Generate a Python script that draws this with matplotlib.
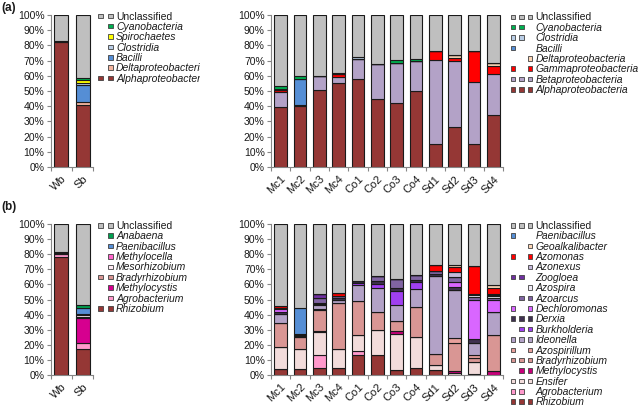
import matplotlib
matplotlib.use('Agg')
import matplotlib.pyplot as plt
from matplotlib.patches import Rectangle
from matplotlib.legend_handler import HandlerBase
from matplotlib.transforms import Bbox, TransformedBbox
import numpy as np

plt.rcParams['font.family'] = ['Liberation Sans', 'DejaVu Sans']

# ---------------- Panel (a), left: class level, Wb / Sb ----------------
a_left_samples = ['Wb', 'Sb']
a_left_taxa = ['Alphaproteobacteria', 'Deltaproteobacteria', 'Bacilli', 'Clostridia',
               'Spirochaetes', 'Cyanobacteria', 'Unclassified']
a_left_alpha = [82.0, 41.0]
a_left_delta = [0.7, 1.5]
a_left_bacilli = [0.0, 11.5]
a_left_clostridia = [0.0, 1.0]
a_left_spiro = [0.0, 2.5]
a_left_cyano = [0.0, 1.3]
a_left_unclass = [17.3, 41.2]
a_left_colors = ['#953735', '#F4B6A0', '#558ED5', '#B9CDE5', '#FFFF00', '#00B050', '#BFBFBF']
a_left_slots = [[1, 1], [0, 1], [0, 1], [0, 1], [0, 1], [0, 1], [1, 1]]

# ---------------- Panel (a), right: class level, 12 samples ----------------
samples12 = ['Mc1', 'Mc2', 'Mc3', 'Mc4', 'Co1', 'Co2', 'Co3', 'Co4', 'Sd1', 'Sd2', 'Sd3', 'Sd4']
a_right_taxa = ['Alphaproteobacteria', 'Betaproteobacteria', 'Gammaproteobacteria',
                'Deltaproteobacteria', 'Bacilli', 'Clostridia', 'Cyanobacteria', 'Unclassified']
a_alpha = [39.5, 40.0, 50.7, 55.0, 58.0, 45.0, 42.0, 50.0, 15.0, 26.5, 15.0, 34.0]
a_beta = [10.0, 1.0, 9.3, 4.0, 13.0, 22.8, 26.6, 20.0, 55.6, 43.5, 41.0, 27.0]
a_gamma = [1.0, 0.0, 0.0, 2.0, 0.0, 0.0, 0.0, 0.0, 5.5, 2.0, 20.0, 5.2]
a_delta = [0.0, 0.0, 0.0, 0.0, 0.0, 0.0, 0.0, 0.0, 0.0, 1.5, 0.0, 2.5]
a_bacilli = [0.0, 17.0, 0.0, 0.0, 0.0, 0.0, 0.0, 0.0, 0.0, 0.0, 0.0, 0.0]
a_clostridia = [0.5, 0.0, 0.0, 1.0, 1.5, 0.0, 0.0, 0.0, 0.0, 0.0, 0.0, 0.0]
a_cyano = [2.5, 2.0, 0.0, 0.0, 0.0, 0.0, 1.5, 1.0, 0.0, 0.0, 0.0, 0.0]
a_unclass = [46.5, 40.0, 40.0, 38.0, 27.5, 32.2, 29.9, 29.0, 23.9, 26.5, 24.0, 31.3]
a_right_colors = ['#953735', '#B3A2C7', '#FF0000', '#FCD5B5', '#558ED5', '#B9CDE5', '#00B050', '#BFBFBF']
a_right_slots = [[1, 1, 1], [1, 1, 1], [1, 0, 1], [0, 0, 1], [1, 0, 0], [1, 1, 0], [1, 1, 0], [1, 1, 1]]

# ---------------- Panel (b), left: genus level, Wb / Sb ----------------
b_left_taxa = ['Rhizobium', 'Agrobacterium', 'Methylocystis', 'Bradyrhizobium',
               'Mesorhizobium', 'Methylocella', 'Paenibacillus', 'Anabaena', 'Unclassified']
b_left_rhizobium = [78.0, 17.0]
b_left_agro = [2.0, 4.5]
b_left_methylocystis = [0.0, 16.0]
b_left_brady = [0.8, 1.0]
b_left_meso = [0.7, 1.0]
b_left_methylocella = [0.0, 1.0]
b_left_paeni = [0.0, 4.0]
b_left_anabaena = [0.0, 2.0]
b_left_unclass = [18.5, 53.5]
b_left_colors = ['#953735', '#FF99CC', '#D6008F', '#D99694', '#FDE9F2', '#FF66CC',
                 '#558ED5', '#00A050', '#BFBFBF']
b_left_slots = [[1, 1], [0, 1], [0, 1], [1, 1], [0, 1], [0, 1], [0, 1], [0, 1], [1, 1]]

# ---------------- Panel (b), right: genus level, 12 samples ----------------
b_right_taxa = ['Rhizobium', 'Agrobacterium', 'Ensifer', 'Methylocystis', 'Bradyrhizobium',
                'Azospirillum', 'Ideonella', 'Burkholderia', 'Derxia', 'Dechloromonas',
                'Azoarcus', 'Azospira', 'Zoogloea', 'Azonexus', 'Azomonas',
                'Geoalkalibacter', 'Paenibacillus', 'Unclassified']
b_rhizobium = [4.0, 4.0, 4.5, 4.5, 13.0, 13.0, 3.3, 4.4, 3.3, 0.0, 0.5, 0.0]
b_agro = [0.0, 0.0, 8.5, 0.0, 3.0, 0.0, 0.0, 0.0, 0.0, 0.0, 0.0, 0.0]
b_ensifer = [14.5, 13.0, 15.7, 12.7, 10.5, 16.8, 23.7, 21.0, 3.3, 1.5, 8.0, 0.0]
b_methylocystis = [0.0, 0.0, 0.6, 0.0, 0.0, 0.0, 2.0, 0.0, 0.0, 1.0, 0.0, 2.6]
b_brady = [16.0, 8.0, 13.7, 30.8, 22.5, 12.2, 7.0, 19.6, 7.5, 19.0, 2.5, 23.9]
b_azospirillum = [0.0, 0.0, 1.0, 0.0, 0.0, 0.0, 0.0, 0.0, 0.0, 2.8, 2.0, 0.0]
b_ideonella = [6.0, 0.5, 2.5, 2.0, 10.5, 15.8, 10.6, 12.0, 51.5, 32.3, 8.4, 15.0]
b_burkholderia = [0.0, 0.0, 0.5, 0.0, 1.5, 2.4, 8.8, 4.5, 0.0, 0.0, 0.0, 0.0]
b_derxia = [1.5, 1.3, 0.5, 1.0, 1.5, 2.0, 2.4, 1.5, 1.5, 2.0, 2.4, 0.5]
b_dechloromonas = [1.5, 0.0, 0.0, 0.0, 0.0, 0.0, 0.0, 0.0, 0.0, 2.8, 26.0, 7.5]
b_azoarcus = [1.0, 0.5, 3.5, 1.0, 0.0, 3.5, 6.0, 3.0, 2.0, 3.2, 2.0, 1.5]
b_azospira = [0.0, 0.0, 0.0, 0.0, 0.0, 0.0, 0.0, 0.0, 0.0, 0.0, 1.0, 1.5]
b_zoogloea = [0.0, 0.0, 2.5, 0.0, 0.0, 0.0, 0.0, 0.0, 0.0, 0.0, 1.0, 0.5]
b_azonexus = [0.0, 0.0, 0.0, 0.0, 0.0, 0.0, 0.0, 0.0, 0.0, 3.4, 0.0, 0.8]
b_azomonas = [1.0, 0.0, 0.0, 2.0, 0.0, 0.0, 0.0, 0.0, 3.7, 3.3, 18.6, 3.6]
b_geoalkali = [0.0, 0.0, 0.0, 0.0, 0.0, 0.0, 0.0, 0.0, 0.0, 1.6, 0.0, 2.3]
b_paeni = [0.0, 17.0, 0.0, 0.0, 0.0, 0.0, 0.0, 0.0, 0.0, 0.0, 0.0, 0.0]
b_unclass = [54.5, 55.7, 46.5, 46.0, 37.5, 34.3, 36.2, 34.0, 27.2, 27.1, 27.6, 40.3]
b_right_colors = ['#953735', '#FF99CC', '#F2DCDB', '#C8007A', '#D99694', '#E8A09C',
                  '#B3A2C7', '#A040F0', '#403151', '#D966FF', '#8064A2', '#EEEAF4',
                  '#7030A0', '#C5B8DA', '#FF0000', '#FCD5B5', '#558ED5', '#BFBFBF']
b_right_slots = [[1, 1, 1], [1, 1, 0], [1, 1, 1], [0, 1, 1], [1, 1, 1], [1, 0, 1],
                 [1, 1, 1], [0, 1, 1], [1, 1, 1], [1, 0, 1], [0, 1, 1], [0, 0, 1],
                 [1, 1, 0], [0, 0, 1], [1, 0, 1], [0, 0, 1], [1, 0, 0], [1, 1, 1]]

yticks = [0, 10, 20, 30, 40, 50, 60, 70, 80, 90, 100]
yticklabels = ['0%', '10%', '20%', '30%', '40%', '50%', '60%', '70%', '80%', '90%', '100%']

AXIS_COLOR = '#868686'
TEXT_COLOR = '#1a1a1a'
EDGE = '#1a1a1a'
LEG_FS = 7.5
SQ_PX = 4.5


class Slots:
    def __init__(self, color, slots):
        self.color = color
        self.slots = slots


class SlotHandler(HandlerBase):
    def __init__(self, step_px, sq_px):
        super().__init__()
        self.step_px = step_px
        self.sq_px = sq_px

    def create_artists(self, legend, orig_handle, xdescent, ydescent, width, height,
                       fontsize, trans):
        step = self.step_px * 0.72
        sq = self.sq_px * 0.72
        arts = []
        for i, on in enumerate(orig_handle.slots):
            if on:
                r = Rectangle((-xdescent + i * step, -ydescent + (height - sq) / 2), sq, sq,
                              facecolor=orig_handle.color, edgecolor='#404040', lw=0.6,
                              transform=trans)
                arts.append(r)
        return arts


fig = plt.figure(figsize=(6.4, 4.08), dpi=100)


def make_axes(rect_px):
    x0, y0, x1, y1 = rect_px
    W, H = 640.0, 408.0
    return fig.add_axes([x0 / W, (H - y1) / H, (x1 - x0) / W, (y1 - y0) / H])


def draw_stack(ax, cats, series, colors):
    x = np.arange(len(cats))
    bottom = np.zeros(len(cats))
    for vals, col in zip(series, colors):
        v = np.array(vals, dtype=float)
        ax.bar(x, v, bottom=bottom, width=0.66, color=col, edgecolor=EDGE, linewidth=0.8)
        bottom += v
    ax.set_xlim(-0.5, len(cats) - 0.5)
    ax.set_ylim(0, 100)
    ax.set_yticks(yticks)
    ax.set_yticklabels(yticklabels)
    ax.set_xticks(x)
    ax.set_xticklabels(cats, rotation=45, ha='right', rotation_mode='anchor')
    ax.set_xticks(np.arange(len(cats) + 1) - 0.5, minor=True)
    ax.tick_params(axis='x', which='major', length=0, pad=5, labelsize=8, colors=TEXT_COLOR)
    ax.tick_params(axis='x', which='minor', length=3, color=AXIS_COLOR, width=0.8)
    ax.tick_params(axis='y', length=3, color=AXIS_COLOR, width=0.8, labelsize=7.5,
                   labelcolor=TEXT_COLOR, pad=1.5)
    for s in ['top', 'right']:
        ax.spines[s].set_visible(False)
    for s in ['left', 'bottom']:
        ax.spines[s].set_color(AXIS_COLOR)
        ax.spines[s].set_linewidth(0.8)


def add_legend(taxa, colors, slots, anchor_px, step_px, clip_x=None):
    handles = [Slots(c, s) for c, s in zip(colors, slots)][::-1]
    labels = list(taxa)[::-1]
    nslot = len(slots[0])
    width_px = (nslot - 1) * step_px + SQ_PX
    leg = fig.legend(handles, labels, loc='upper left',
                     bbox_to_anchor=(anchor_px[0] / 640.0, 1 - anchor_px[1] / 408.0),
                     frameon=False, fontsize=LEG_FS, borderpad=0, borderaxespad=0,
                     handlelength=width_px * 0.72 / LEG_FS, handleheight=0.6,
                     handletextpad=0.35, labelspacing=0.036,
                     handler_map={Slots: SlotHandler(step_px, SQ_PX)})
    for t, lab in zip(leg.get_texts(), labels):
        t.set_color(TEXT_COLOR)
        if lab != 'Unclassified':
            t.set_fontstyle('italic')
        if clip_x is not None:
            t.set_clip_box(TransformedBbox(Bbox([[0, 0], [clip_x / 640.0, 1]]), fig.transFigure))
            t.set_clip_on(True)
    return leg


# Panel (a) left
ax1 = make_axes((50.7, 15, 93.3, 167))
draw_stack(ax1, a_left_samples,
           [a_left_alpha, a_left_delta, a_left_bacilli, a_left_clostridia, a_left_spiro,
            a_left_cyano, a_left_unclass], a_left_colors)
add_legend(a_left_taxa, a_left_colors, a_left_slots, (98, 11.5), 10, clip_x=200)

# Panel (a) right
ax2 = make_axes((271, 15, 503, 167))
draw_stack(ax2, samples12,
           [a_alpha, a_beta, a_gamma, a_delta, a_bacilli, a_clostridia, a_cyano, a_unclass],
           a_right_colors)
add_legend(a_right_taxa, a_right_colors, a_right_slots, (510.7, 12.5), 8.4)

# Panel (b) left
ax3 = make_axes((50.7, 224, 93.3, 375))
draw_stack(ax3, a_left_samples,
           [b_left_rhizobium, b_left_agro, b_left_methylocystis, b_left_brady, b_left_meso,
            b_left_methylocella, b_left_paeni, b_left_anabaena, b_left_unclass], b_left_colors)
add_legend(b_left_taxa, b_left_colors, b_left_slots, (98, 221), 10, clip_x=200)

# Panel (b) right
ax4 = make_axes((271, 224, 503, 375))
draw_stack(ax4, samples12,
           [b_rhizobium, b_agro, b_ensifer, b_methylocystis, b_brady, b_azospirillum,
            b_ideonella, b_burkholderia, b_derxia, b_dechloromonas, b_azoarcus, b_azospira,
            b_zoogloea, b_azonexus, b_azomonas, b_geoalkali, b_paeni, b_unclass],
           b_right_colors)
add_legend(b_right_taxa, b_right_colors, b_right_slots, (510.7, 221.0), 8.4)

fig.text(1 / 640, 1 - 2 / 408, '(a)', fontsize=8.5, fontweight='bold', va='top', ha='left',
         color=TEXT_COLOR)
fig.text(1 / 640, 1 - 201 / 408, '(b)', fontsize=8.5, fontweight='bold', va='top', ha='left',
         color=TEXT_COLOR)

fig.savefig('out.png', dpi=100)
